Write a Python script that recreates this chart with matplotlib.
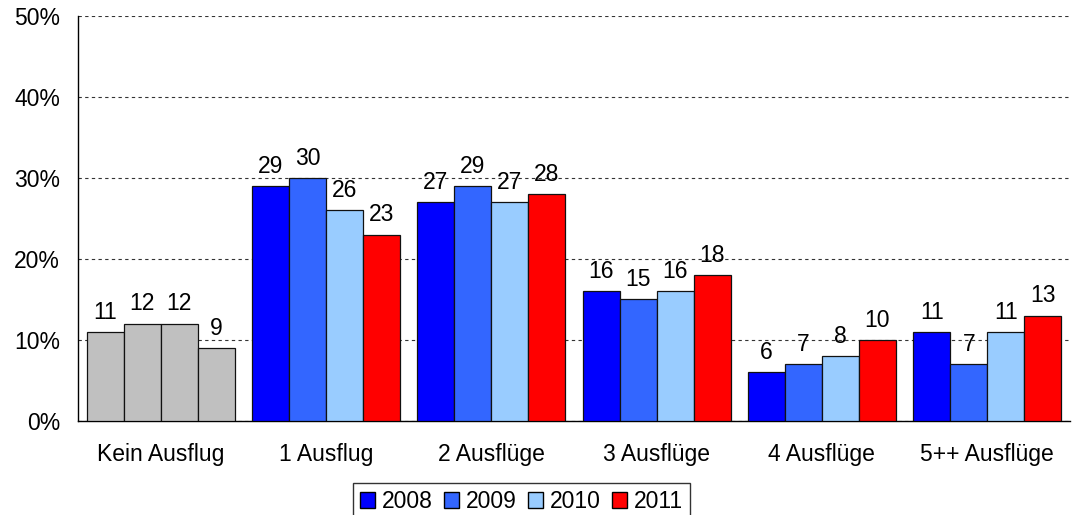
import matplotlib
matplotlib.use("Agg")
import matplotlib.pyplot as plt
import numpy as np
from matplotlib.patches import Patch

plt.rcParams["font.family"] = ["Liberation Sans", "DejaVu Sans"]

categories = ["Kein Ausflug", "1 Ausflug", "2 Ausflüge", "3 Ausflüge",
              "4 Ausflüge", "5++ Ausflüge"]
years = ["2008", "2009", "2010", "2011"]
v2008 = [11, 29, 27, 16, 6, 11]
v2009 = [12, 30, 29, 15, 7, 7]
v2010 = [12, 26, 27, 16, 8, 11]
v2011 = [9, 23, 28, 18, 10, 13]
series = [v2008, v2009, v2010, v2011]
colors = ["#0000FF", "#3366FF", "#99CCFF", "#FF0000"]
first_group_color = "#C0C0C0"

FS = 16.5

fig = plt.figure(figsize=(10.72, 5.15), dpi=100)
ax = fig.add_axes([0.0728, 0.1825, 0.9252, 0.7865])

x = np.arange(len(categories))
w = 0.224
for i, (vals, c) in enumerate(zip(series, colors)):
    pos = x + (i - 1.5) * w
    cols = [first_group_color] + [c] * (len(categories) - 1)
    ax.bar(pos, vals, width=w, color=cols, edgecolor="#111111", linewidth=0.9,
           zorder=3)
    for px, v in zip(pos, vals):
        ax.annotate(str(v), (px, v), xytext=(0, 6), textcoords="offset points",
                    ha="center", va="bottom", fontsize=FS, zorder=4)

ax.set_xlim(-0.5, len(categories) - 0.5)
ax.set_ylim(0, 50)
ax.set_yticks(range(0, 51, 10))
ax.set_yticklabels([f"{t}%" for t in range(0, 51, 10)], fontsize=FS)
ax.set_xticks(x)
ax.set_xticklabels(categories, fontsize=FS)
ax.tick_params(axis="x", length=0, pad=16)
ax.tick_params(axis="y", length=0, pad=13)
ax.yaxis.grid(True, linestyle=(0, (3, 3)), color="#333333", linewidth=0.8,
              zorder=0)
for s in ["top", "right"]:
    ax.spines[s].set_visible(False)
ax.spines["left"].set_linewidth(1.0)
ax.spines["bottom"].set_linewidth(1.0)

handles = [Patch(facecolor=c, edgecolor="black", label=y)
           for c, y in zip(colors, years)]
fig.legend(handles=handles, loc="upper center", bbox_to_anchor=(0.4865, 0.062),
           ncol=4, fontsize=FS, frameon=True, fancybox=False, edgecolor="black",
           handlelength=0.65, handleheight=0.65, handletextpad=0.3,
           columnspacing=0.5, borderpad=0.3, borderaxespad=0)

fig.savefig("out.png", dpi=100)
